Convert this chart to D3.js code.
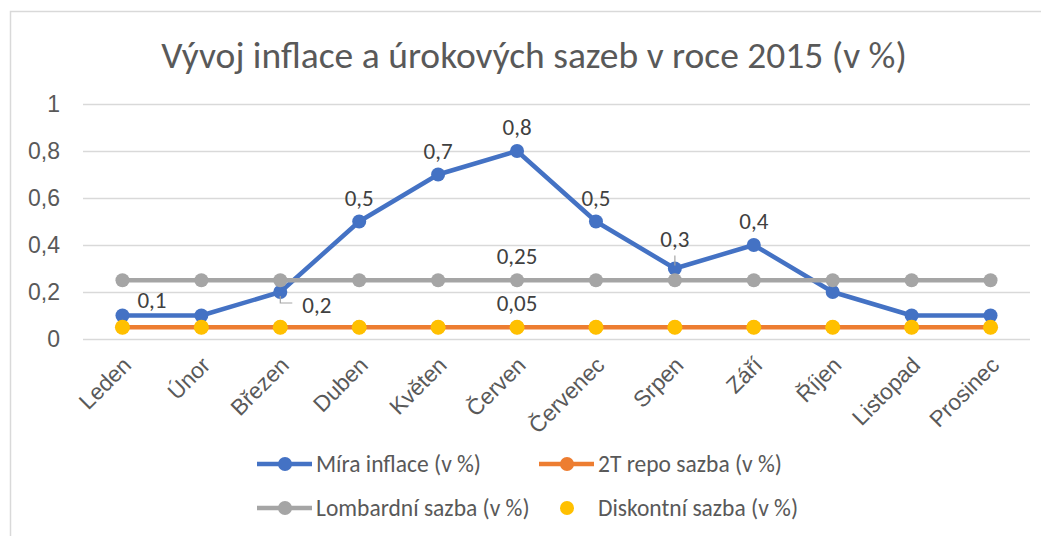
<!DOCTYPE html>
<html>
<head>
<meta charset="utf-8">
<script src="https://cdn.jsdelivr.net/npm/d3@7"></script>
<style>
  body { margin: 0; background: #fff; }
  svg { display: block; font-family: Calibri, Carlito, Lato, sans-serif; }
</style>
</head>
<body>
<svg id="chart" width="1041" height="536"></svg>
<script>
var months = ["Leden", "Únor", "Březen", "Duben", "Květen", "Červen", "Červenec", "Srpen", "Září", "Říjen", "Listopad", "Prosinec"];
var inflace = [0.1, 0.1, 0.2, 0.5, 0.7, 0.8, 0.5, 0.3, 0.4, 0.2, 0.1, 0.1];
var repo = [0.05, 0.05, 0.05, 0.05, 0.05, 0.05, 0.05, 0.05, 0.05, 0.05, 0.05, 0.05];
var lombard = [0.25, 0.25, 0.25, 0.25, 0.25, 0.25, 0.25, 0.25, 0.25, 0.25, 0.25, 0.25];
var diskont = [0.05, 0.05, 0.05, 0.05, 0.05, 0.05, 0.05, 0.05, 0.05, 0.05, 0.05, 0.05];
var yTicks = [0, 0.2, 0.4, 0.6, 0.8, 1];
var seriesNames = ["Míra inflace (v %)", "2T repo sazba (v %)", "Lombardní sazba (v %)", "Diskontní sazba (v %)"];
var title = "Vývoj inflace a úrokových sazeb v roce 2015 (v %)";

// which points carry a data label, and where it goes
var inflaceLabels = [[0, "right"], [2, "leaderBelow"], [3, "above"], [4, "above"], [5, "above"], [6, "above"], [7, "leaderAbove"], [8, "above"]];
var lombardLabels = [[5, "above"]];
var repoLabels = [[5, "above"]];

var fmt = function (d) { return String(d).replace(".", ","); };

var svg = d3.select("#chart");

var x = d3.scalePoint().domain(months).range([83, 1030]).padding(0.5);
var y = d3.scaleLinear().domain([0, 1]).range([339, 104]);

// chart frame
svg.append("rect")
  .attr("x", 10.5).attr("y", 11.5)
  .attr("width", 1100).attr("height", 600)
  .attr("fill", "#fff").attr("stroke", "#d9d9d9").attr("stroke-width", 1.5);

svg.append("text")
  .attr("x", 534).attr("y", 68)
  .attr("text-anchor", "middle")
  .attr("font-size", 37.5).attr("font-weight", 300)
  .attr("fill", "#595959")
  .text(title);

// y axis + gridlines
var yAxis = svg.append("g")
  .attr("transform", "translate(83,0)")
  .call(d3.axisLeft(y).tickValues(yTicks).tickFormat(fmt).tickSize(-947).tickPadding(23));
yAxis.select(".domain").remove();
yAxis.selectAll("line").attr("stroke", "#d9d9d9").attr("stroke-width", 1.5);
yAxis.selectAll("text").attr("font-size", 23).attr("fill", "#595959").attr("font-family", null);

// x axis labels
var xAxis = svg.append("g")
  .attr("transform", "translate(0," + y(0) + ")")
  .call(d3.axisBottom(x).tickSize(0));
xAxis.select(".domain").remove();
xAxis.selectAll("text")
  .attr("font-size", 22.5).attr("fill", "#595959").attr("font-family", null)
  .attr("text-anchor", "end")
  .attr("y", 0).attr("dy", "0.35em")
  .attr("transform", "translate(4,22) rotate(-45)");

function drawLine(values, color) {
  svg.append("path")
    .datum(values)
    .attr("fill", "none")
    .attr("stroke", color)
    .attr("stroke-width", 4.5)
    .attr("stroke-linejoin", "round")
    .attr("d", d3.line().x(function (d, i) { return x(months[i]); }).y(function (d) { return y(d); }));
}
function drawMarkers(values, color, r) {
  svg.append("g").selectAll("circle")
    .data(values).join("circle")
    .attr("cx", function (d, i) { return x(months[i]); })
    .attr("cy", function (d) { return y(d); })
    .attr("r", r)
    .attr("fill", color);
}

drawLine(inflace, "#4472c4");
drawMarkers(inflace, "#4472c4", 7);
drawLine(repo, "#ed7d31");
drawMarkers(repo, "#ed7d31", 7);
drawLine(lombard, "#a5a5a5");
drawMarkers(lombard, "#a5a5a5", 7);
drawMarkers(diskont, "#ffc000", 7.5);

function drawLabels(values, spec) {
  var g = svg.append("g").attr("font-size", 23).attr("fill", "#404040");
  spec.forEach(function (s) {
    var i = s[0], px = x(months[i]), py = y(values[i]);
    var t = g.append("text").text(fmt(values[i]));
    if (s[1] === "above") {
      t.attr("x", px).attr("y", py - 16).attr("text-anchor", "middle");
    } else if (s[1] === "right") {
      t.attr("x", px + 15).attr("y", py - 8);
    } else if (s[1] === "leaderBelow") {
      g.append("path").attr("d", "M" + px + "," + (py + 4) + "V" + (py + 11) + "H" + (px + 12))
        .attr("fill", "none").attr("stroke", "#a5a5a5").attr("stroke-width", 1.2);
      t.attr("x", px + 22).attr("y", py + 21);
    } else if (s[1] === "leaderAbove") {
      g.append("path").attr("d", "M" + px + "," + (py - 3) + "V" + (py - 13))
        .attr("fill", "none").attr("stroke", "#a5a5a5").attr("stroke-width", 1.2);
      t.attr("x", px).attr("y", py - 22).attr("text-anchor", "middle");
    }
  });
}
drawLabels(inflace, inflaceLabels);
drawLabels(lombard, lombardLabels);
drawLabels(repo, repoLabels);

// legend
var legendPos = [[257, 464], [539, 464], [257, 508], [539, 508]];
var legendColors = ["#4472c4", "#ed7d31", "#a5a5a5", "#ffc000"];
var legend = svg.append("g");
seriesNames.forEach(function (name, k) {
  var lx = legendPos[k][0], ly = legendPos[k][1];
  if (k < 3) {
    legend.append("line").attr("x1", lx).attr("x2", lx + 55).attr("y1", ly).attr("y2", ly)
      .attr("stroke", legendColors[k]).attr("stroke-width", 4.5);
  }
  legend.append("circle").attr("cx", lx + 28).attr("cy", ly).attr("r", 7).attr("fill", legendColors[k]);
  legend.append("text").attr("x", lx + 59).attr("y", ly).attr("dy", "0.35em")
    .attr("font-size", 23.5).attr("fill", "#595959").text(name);
});
</script>
</body>
</html>
